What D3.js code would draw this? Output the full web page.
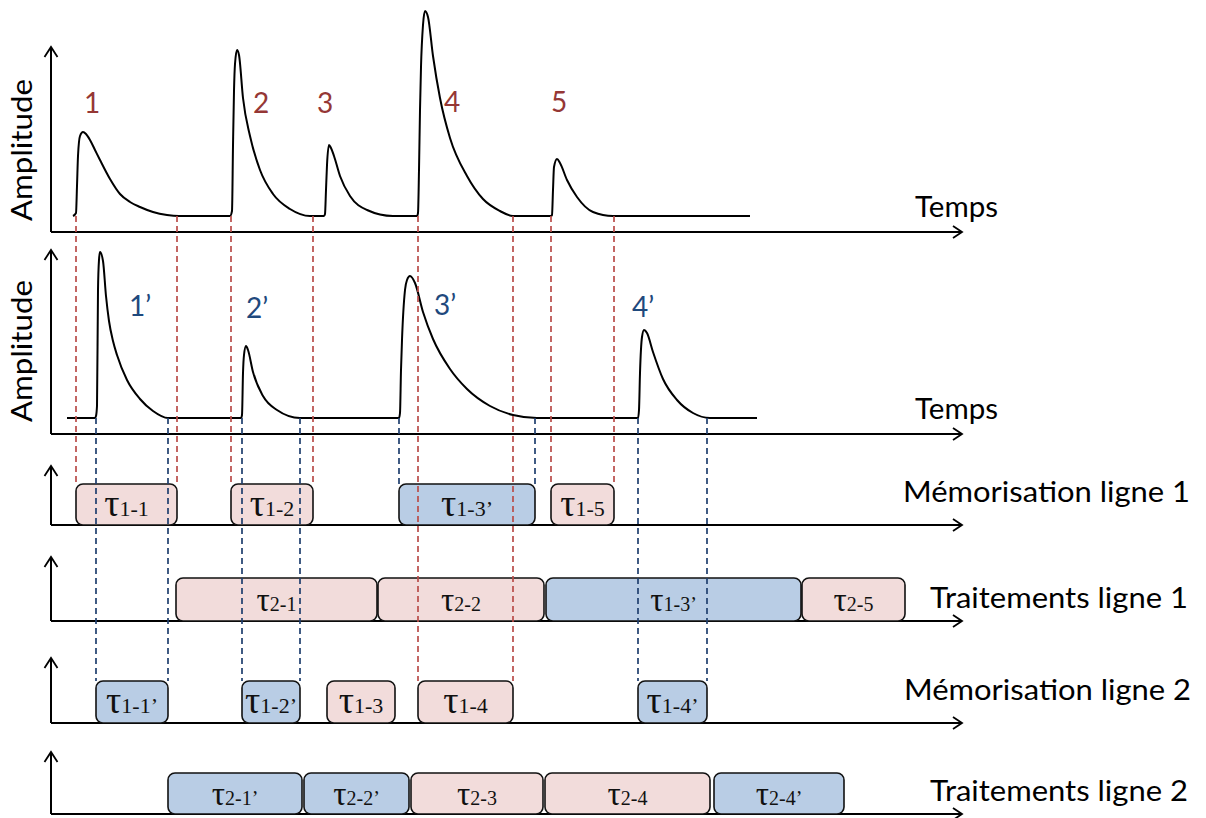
<!DOCTYPE html>
<html><head><meta charset="utf-8">
<script src="https://cdn.jsdelivr.net/npm/d3@7"></script>
<style>body{margin:0;background:#fff}svg{display:block}</style>
</head><body>
<svg id="c" width="1206" height="818"></svg>
<script>
// ---------- DATA (time units, amplitude units) ----------
const signal1 = [
 [22,0],[25,3],[26,30],[27,60],[29,80],[32,84],[35,82],[39,76],[44,66],[49,56],[59,37],[69,22],[79,14],[89,9],[102,4],[116,1],[128,0],
 [179,0],[181,5],[182,70],[183,125],[184,152],[186,166],[188,161],[192,118],[199,80],[209,46],[222,22],[239,7],[259,0],
 [273,0],[274,2],[275,26],[276,51],[278,71],[280,68],[283,60],[289,40],[299,20],[316,6],[342,0],
 [366,0],[367,3],[368,46],[369,106],[370,149],[372,191],[374,205],[377,199],[382,160],[389,118],[399,78],[416,40],[432,17],[449,5],[462,0],
 [500,0],[501,1],[502,26],[503,49],[506,57],[509,53],[516,36],[526,19],[542,4],[562,0],
 [699,0]
];
const signal2 = [
 [16,0],[44,0],[45,2],[46,12],[47,128],[48,158],[49,166],[52,157],[55,122],[58,97],[62,77],[66,63],[76,38],[89,19],[102,7],[117,0],
 [190,0],[191,3],[192,45],[193,63],[195,72],[197,68],[202,46],[212,22],[226,8],[249,0],
 [348,0],[349,5],[350,48],[351,78],[354,128],[356,138],[359,142],[364,135],[372,106],[382,79],[399,49],[416,29],[439,12],[462,3],[486,0],
 [587,0],[588,8],[589,45],[591,81],[593,88],[596,85],[602,66],[612,39],[626,18],[642,5],[659,0],[706,0]
];
const peakLabels1 = [{t:41,a:103,s:"1"},{t:210,a:103,s:"2"},{t:274,a:103,s:"3"},{t:401,a:104,s:"4"},{t:508,a:104,s:"5"}];
const peakLabels2 = [{t:89,a:102,s:"1’"},{t:206,a:100,s:"2’"},{t:394,a:103,s:"3’"},{t:592,a:101,s:"4’"}];

const memo1 = [{s:25,e:126,n:"1-1",b:0},{s:180,e:262,n:"1-2",b:0},{s:348,e:484,n:"1-3’",b:1},{s:500,e:563,n:"1-5",b:0}];
const trait1 = [{s:125,e:326,n:"2-1",b:0},{s:327,e:493,n:"2-2",b:0},{s:495,e:750,n:"1-3’",b:1},{s:751,e:854,n:"2-5",b:0}];
const memo2 = [{s:45,e:117,n:"1-1’",b:1},{s:191,e:249,n:"1-2’",b:1},{s:276,e:344,n:"1-3",b:0},{s:367,e:462,n:"1-4",b:0},{s:587,e:656,n:"1-4’",b:1}];
const trait2 = [{s:117,e:251,n:"2-1’",b:1},{s:253,e:358,n:"2-2’",b:1},{s:360,e:492,n:"2-3",b:0},{s:494,e:659,n:"2-4",b:0},{s:663,e:793,n:"2-4’",b:1}];

const redGuides = [{t:25,to:0},{t:126,to:0},{t:180,to:0},{t:262,to:0},{t:367,to:2},{t:462,to:2},{t:500,to:0},{t:563,to:0}];
const blueGuides = [{t:45,to:2},{t:117,to:2},{t:191,to:2},{t:249,to:2},{t:348,to:0},{t:484,to:0},{t:587,to:2},{t:656,to:2}];

const rowLabels = ["Mémorisation ligne 1","Traitements ligne 1","Mémorisation ligne 2","Traitements ligne 2"];
const axisTitleY = "Amplitude", axisTitleX = "Temps";

// ---------- LAYOUT ----------
const svg = d3.select("#c");
const x = d3.scaleLinear().domain([0,910]).range([51,961]);
const y1 = d3.scaleLinear().domain([0,205]).range([216,11]);
const y2 = d3.scaleLinear().domain([0,205]).range([418,213]);
const rows = [
 {data:memo1, axis:525, top:484, arrow:466, lx:903, lw:287, lb:502},
 {data:trait1, axis:621, top:578, arrow:557, lx:930, lw:258, lb:608},
 {data:memo2, axis:723, top:681, arrow:658, lx:904, lw:287, lb:700},
 {data:trait2, axis:814, top:773, arrow:752, lx:930, lw:258, lb:801}
];
const SANS = "Lato, 'Open Sans', sans-serif", SERIF = "'Liberation Serif', 'Times New Roman', serif";
const RED_T = "#953735", BLUE_T = "#1f497d", RED_D = "#b94c49", BLUE_D = "#1f3f6e";
const PINK = "#f2dcdb", BLUE = "#b9cde5";
const xEnd = 962, yAxX = 51;

function axes(yAxis, yTop){
  const g = svg.append("g").attr("fill","none").attr("stroke","#000").attr("stroke-width",2);
  g.append("path").attr("d",`M${yAxX},${yAxis}V${yTop}M${yAxX},${yAxis}H${xEnd}`);
  g.append("path").attr("d",`M${yAxX-6.5},${yTop+10}L${yAxX},${yTop}L${yAxX+6.5},${yTop+10}`).attr("stroke-width",1.8);
  g.append("path").attr("d",`M${xEnd-9},${yAxis-6}L${xEnd},${yAxis}L${xEnd-9},${yAxis+6}`).attr("stroke-width",1.8);
}

axes(232, 47);
axes(434, 250);
rows.forEach(r => axes(r.axis, r.arrow));

const line1 = d3.line().x(d=>x(d[0])).y(d=>y1(d[1])).curve(d3.curveMonotoneX);
const line2 = d3.line().x(d=>x(d[0])).y(d=>y2(d[1])).curve(d3.curveMonotoneX);
svg.append("path").attr("d",line1(signal1)).attr("fill","none").attr("stroke","#000").attr("stroke-width",2);
svg.append("path").attr("d",line2(signal2)).attr("fill","none").attr("stroke","#000").attr("stroke-width",2);

[[150,232],[351,434]].forEach(([cy,ay])=>{
  svg.append("text").attr("transform",`translate(32,${cy}) rotate(-90)`).attr("text-anchor","middle")
    .attr("font-family",SANS).attr("font-size",29).attr("textLength",142).attr("lengthAdjust","spacingAndGlyphs")
    .text(axisTitleY);
  svg.append("text").attr("x",915).attr("y",ay-15).attr("font-family",SANS).attr("font-size",29)
    .attr("textLength",83).attr("lengthAdjust","spacingAndGlyphs").text(axisTitleX);
});

svg.selectAll(".pl1").data(peakLabels1).join("text").attr("x",d=>x(d.t)).attr("y",d=>y1(d.a))
  .attr("text-anchor","middle").attr("font-family",SANS).attr("font-size",28).attr("fill",RED_T).text(d=>d.s);
svg.selectAll(".pl2").data(peakLabels2).join("text").attr("x",d=>x(d.t)).attr("y",d=>y2(d.a))
  .attr("text-anchor","middle").attr("font-family",SANS).attr("font-size",28).attr("fill",BLUE_T).text(d=>d.s);

rows.forEach((r,i)=>{
  const g = svg.append("g");
  g.selectAll("rect").data(r.data).join("rect")
    .attr("x",d=>x(d.s)).attr("y",r.top).attr("width",d=>x(d.e)-x(d.s)).attr("height",r.axis-r.top)
    .attr("rx",7).attr("fill",d=>d.b?BLUE:PINK).attr("stroke","#111").attr("stroke-width",1.6);
  const big = (i%2===0)?38:33, small=(i%2===0)?22:20;
  const cy = (r.top+r.axis)/2 + 11;
  const t = g.selectAll("text").data(r.data).join("text")
    .attr("x",d=>(x(d.s)+x(d.e))/2).attr("y",cy).attr("text-anchor","middle").attr("font-family",SERIF).attr("fill","#111");
  t.append("tspan").attr("font-size",big).text("τ");
  t.append("tspan").attr("font-size",small).text(d=>d.n);
  svg.append("text").attr("x",r.lx).attr("y",r.lb).attr("font-family",SANS).attr("font-size",29)
    .attr("textLength",r.lw).attr("lengthAdjust","spacingAndGlyphs").text(rowLabels[i]);
});

svg.selectAll(".rg").data(redGuides).join("line")
  .attr("x1",d=>x(d.t)).attr("x2",d=>x(d.t)).attr("y1",y1(0)).attr("y2",d=>rows[d.to].top)
  .attr("stroke",RED_D).attr("stroke-width",1.7).attr("stroke-dasharray","6,4");
svg.selectAll(".bg").data(blueGuides).join("line")
  .attr("x1",d=>x(d.t)).attr("x2",d=>x(d.t)).attr("y1",y2(0)).attr("y2",d=>rows[d.to].top)
  .attr("stroke",BLUE_D).attr("stroke-width",1.7).attr("stroke-dasharray","6,4");
</script>
</body></html>
